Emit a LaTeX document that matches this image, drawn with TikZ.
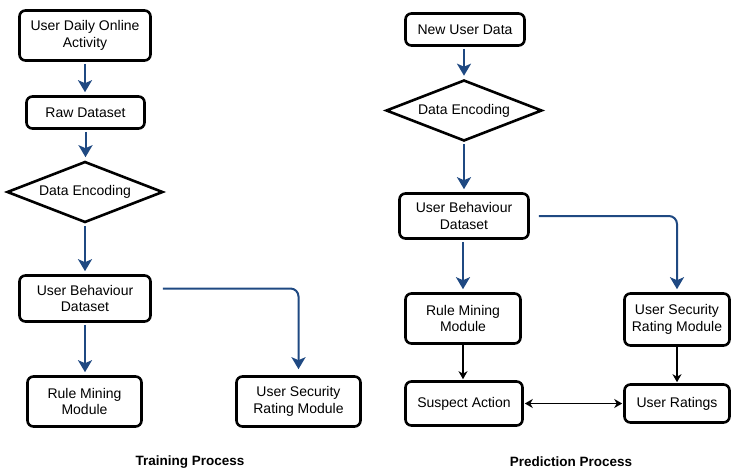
\documentclass[tikz,border=0pt]{standalone}
\usepackage{fontspec}
\setmainfont{Liberation Sans}
\usetikzlibrary{shapes.geometric,arrows.meta}
\definecolor{flowblue}{RGB}{31,73,130}

\begin{document}
\begin{tikzpicture}
[x=1pt, y=-1pt, font=\fontsize{14}{16.5}\selectfont, line width=0.75pt,
box/.style={rectangle, draw, rounded corners=6pt, line width=2.6pt, align=center, inner sep=0pt},
enc/.style={diamond, draw, line width=2.6pt, aspect=2.5, inner sep=0pt, minimum width=156pt, minimum height=61pt},
blueflow/.style={draw=flowblue, line width=2pt, -{Stealth[length=12pt,width=14pt,inset=3pt]}, shorten <=2pt, shorten >=3pt},
blackflow/.style={line width=1.3pt, -{Stealth[length=8pt,width=9pt,inset=2.5pt]}, shorten >=1pt},
title/.style={font=\fontsize{13.5}{16}\selectfont\bfseries}]

\useasboundingbox (0,0) rectangle (732,472);

% training process
\node[box, minimum width=131pt, minimum height=50pt] (activity) at (85,35.5) {User Daily Online\\Activity};
\node[box, minimum width=118pt, minimum height=32pt] (raw) at (85.5,112.5) {Raw Dataset};
\node[enc] (encL) at (85,192) {Data Encoding};
\node[box, minimum width=131pt, minimum height=46pt] (behavL) at (85,298.5) {User Behaviour\\Dataset};
\node[box, minimum width=114pt, minimum height=50pt] (ruleL) at (84.5,401.5) {Rule Mining\\Module};
\node[box, minimum width=124pt, minimum height=50pt] (securityL) at (298.5,401.5) {User Security\\Rating Module};
\node[title] (training) at (190,462) {Training Process};

\draw[blueflow] (activity.south) -- (activity.south |- raw.north);
\draw[blueflow] (raw.south) -- (raw.south |- encL.north);
\draw[blueflow] (encL.south) -- (encL.south |- behavL.north);
\draw[blueflow] (behavL.south) -- (behavL.south |- ruleL.north);
\draw[blueflow, rounded corners=8pt, shorten >=6pt] ([xshift=9pt, yshift=10pt]behavL.east) -| (securityL.north);

% prediction process
\node[box, minimum width=119pt, minimum height=32pt] (newdata) at (465,29.5) {New User Data};
\node[enc] (encR) at (464,110.5) {Data Encoding};
\node[box, minimum width=129pt, minimum height=45pt] (behavR) at (464,216) {User Behaviour\\Dataset};
\node[box, minimum width=115pt, minimum height=50pt] (ruleR) at (463,318.5) {Rule Mining\\Module};
\node[box, minimum width=105pt, minimum height=52pt] (securityR) at (677,319.5) {User Security\\Rating Module};
\node[box, minimum width=117pt, minimum height=44pt] (suspect) at (464,403.5) {Suspect Action};
\node[box, minimum width=105pt, minimum height=38pt] (ratings) at (677,403.5) {User Ratings};
\node[title] (prediction) at (571,462) {Prediction Process};

\draw[blueflow] (encR.north |- newdata.south) -- (encR.north);
\draw[blueflow] (encR.south) -- (encR.south |- behavR.north);
\draw[blueflow] (ruleR.north |- behavR.south) -- (ruleR.north);
\draw[blueflow, rounded corners=8pt] ([xshift=7pt]behavR.east) -| (securityR.north);
\draw[blackflow] (ruleR.south) -- (ruleR.south |- suspect.north);
\draw[blackflow] (securityR) -- (ratings);
\draw[blackflow, {Stealth[length=8pt,width=9pt,inset=2.5pt]}-{Stealth[length=8pt,width=9pt,inset=2.5pt]}, shorten <=1pt] (suspect) -- (ratings);

\end{tikzpicture}
\end{document}
